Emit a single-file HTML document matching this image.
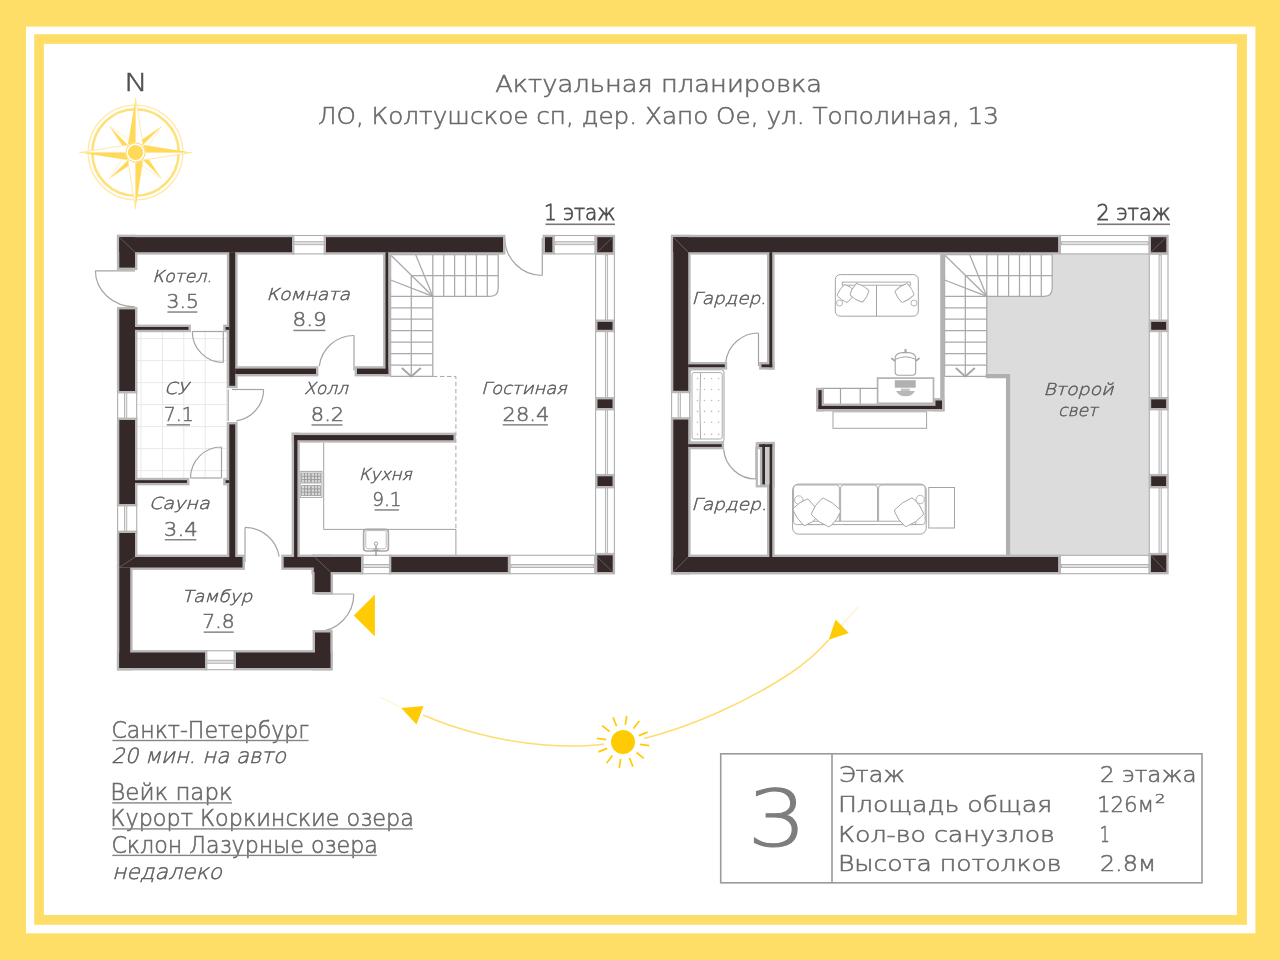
<!DOCTYPE html>
<html lang="ru"><head><meta charset="utf-8"><title>Актуальная планировка</title>
<style>
html,body{margin:0;padding:0;background:#ffde68;}
body{width:1280px;height:960px;overflow:hidden;}
svg{display:block;will-change:transform;}
text{font-family:"DejaVu Sans Light","DejaVu Sans","Liberation Sans",sans-serif;font-weight:200;fill:#696969;stroke:#696969;stroke-width:0.55px;}
text.it{font-style:italic;fill:#5a5a5a;stroke:#5a5a5a;stroke-width:0.45px;}
text.md{fill:#505050;stroke:#505050;stroke-width:0.8px;}
text.lt3{fill:#7d7d7d;stroke:#7d7d7d;stroke-width:1.2px;}
</style></head><body>
<svg width="1280" height="960" viewBox="0 0 1280 960">
<rect x="0" y="0" width="1280" height="960" fill="#ffde68"/>
<rect x="26" y="26.6" width="1229.4" height="906.7" fill="#ffffff"/>
<rect x="34.2" y="34.2" width="1212.8" height="890.6" fill="#ffde68"/>
<rect x="43.9" y="43.9" width="1193" height="871.1" fill="#ffffff"/>
<text x="495.19" y="91.9" font-size="23.5" class="lt" textLength="326.93" lengthAdjust="spacingAndGlyphs" >Актуальная планировка</text>
<text x="317.90" y="123.7" font-size="23.5" class="lt" textLength="681.11" lengthAdjust="spacingAndGlyphs" >ЛО, Колтушское сп, дер. Хапо Ое, ул. Тополиная, 13</text>
<line x1="141.0" y1="332" x2="141.0" y2="479" stroke="#e9e9e9" stroke-width="1" />
<line x1="162.4" y1="332" x2="162.4" y2="479" stroke="#e9e9e9" stroke-width="1" />
<line x1="183.8" y1="332" x2="183.8" y2="479" stroke="#e9e9e9" stroke-width="1" />
<line x1="205.2" y1="332" x2="205.2" y2="479" stroke="#e9e9e9" stroke-width="1" />
<line x1="226.6" y1="332" x2="226.6" y2="479" stroke="#e9e9e9" stroke-width="1" />
<line x1="137" y1="338.6" x2="227" y2="338.6" stroke="#e9e9e9" stroke-width="1" />
<line x1="137" y1="360.6" x2="227" y2="360.6" stroke="#e9e9e9" stroke-width="1" />
<line x1="137" y1="382.6" x2="227" y2="382.6" stroke="#e9e9e9" stroke-width="1" />
<line x1="137" y1="404.6" x2="227" y2="404.6" stroke="#e9e9e9" stroke-width="1" />
<line x1="137" y1="426.6" x2="227" y2="426.6" stroke="#e9e9e9" stroke-width="1" />
<line x1="137" y1="448.6" x2="227" y2="448.6" stroke="#e9e9e9" stroke-width="1" />
<line x1="137" y1="470.6" x2="227" y2="470.6" stroke="#e9e9e9" stroke-width="1" />
<rect x="292" y="235.5" width="34" height="18.4" fill="#fff" stroke="#aeaeae" stroke-width="1.1"/>
<rect x="293" y="241.7" width="32" height="3" fill="#e2e2e2" stroke="#aeaeae" stroke-width="0.9"/>
<rect x="554" y="235.5" width="41" height="18.4" fill="#fff" stroke="#aeaeae" stroke-width="1.1"/>
<rect x="555" y="241.7" width="39" height="3" fill="#e2e2e2" stroke="#aeaeae" stroke-width="0.9"/>
<rect x="595.5999999999999" y="254" width="18.80000000000009" height="303" fill="#fff" stroke="#aeaeae" stroke-width="1.1"/>
<rect x="605.4" y="255" width="2.2" height="301" fill="#f0f0f0" stroke="#aeaeae" stroke-width="0.9"/>
<rect x="361" y="555.3" width="30.30000000000001" height="18.4" fill="#fff" stroke="#aeaeae" stroke-width="1.1"/>
<rect x="362" y="564.5" width="28.30000000000001" height="3" fill="#e2e2e2" stroke="#aeaeae" stroke-width="0.9"/>
<rect x="510" y="555.3" width="84.79999999999995" height="18.4" fill="#fff" stroke="#aeaeae" stroke-width="1.1"/>
<rect x="511" y="564.5" width="82.79999999999995" height="3" fill="#e2e2e2" stroke="#aeaeae" stroke-width="0.9"/>
<rect x="117.6" y="391" width="19.1" height="29" fill="#fff" stroke="#aeaeae" stroke-width="1.1"/>
<rect x="124.55000000000001" y="392" width="2.2" height="27" fill="#f0f0f0" stroke="#aeaeae" stroke-width="0.9"/>
<rect x="117.6" y="504" width="19.1" height="29" fill="#fff" stroke="#aeaeae" stroke-width="1.1"/>
<rect x="124.55000000000001" y="505" width="2.2" height="27" fill="#f0f0f0" stroke="#aeaeae" stroke-width="0.9"/>
<rect x="205" y="650.8" width="31" height="18.9" fill="#fff" stroke="#aeaeae" stroke-width="1.1"/>
<rect x="206" y="660.25" width="29" height="3" fill="#e2e2e2" stroke="#aeaeae" stroke-width="0.9"/>
<path d="M95.40,270.80 A39.6,36 0 0 0 135.00,306.80" stroke="#a4a4a4" stroke-width="1.2" fill="none" />
<line x1="135.00" y1="270.80" x2="95.40" y2="270.80" stroke="#a4a4a4" stroke-width="1.2" />
<path d="M192.30,331.50 A31,31 0 0 0 223.30,362.50" stroke="#a4a4a4" stroke-width="1.2" fill="none" />
<line x1="223.30" y1="331.50" x2="223.30" y2="362.50" stroke="#a4a4a4" stroke-width="1.2" />
<line x1="192.3" y1="331.5" x2="223.3" y2="331.5" stroke="#a4a4a4" stroke-width="1.2" />
<path d="M354.00,335.50 A35,35 0 0 0 319.26,366.23" stroke="#a4a4a4" stroke-width="1.2" fill="none" />
<line x1="354.00" y1="370.50" x2="354.00" y2="335.50" stroke="#a4a4a4" stroke-width="1.2" />
<path d="M263.60,389.50 A31.6,31.6 0 0 1 236.40,420.79" stroke="#a4a4a4" stroke-width="1.2" fill="none" />
<line x1="232.00" y1="389.50" x2="263.60" y2="389.50" stroke="#a4a4a4" stroke-width="1.2" />
<line x1="228.2" y1="389.5" x2="228.2" y2="421" stroke="#a4a4a4" stroke-width="1.2" />
<path d="M221.50,447.00 A31,31 0 0 0 190.50,478.00" stroke="#a4a4a4" stroke-width="1.2" fill="none" />
<line x1="221.50" y1="478.00" x2="221.50" y2="447.00" stroke="#a4a4a4" stroke-width="1.2" />
<line x1="190.5" y1="478" x2="221.5" y2="478" stroke="#a4a4a4" stroke-width="1.2" />
<path d="M245.00,527.40 A34.6,34.6 0 0 1 279.17,556.59" stroke="#a4a4a4" stroke-width="1.2" fill="none" />
<line x1="245.00" y1="562.00" x2="245.00" y2="527.40" stroke="#a4a4a4" stroke-width="1.2" />
<path d="M353.80,594.00 A37.8,37.8 0 0 1 316.00,631.80" stroke="#a4a4a4" stroke-width="1.2" fill="none" />
<line x1="316.00" y1="594.00" x2="353.80" y2="594.00" stroke="#a4a4a4" stroke-width="1.2" />
<path d="M504.80,238.00 A37.5,37.5 0 0 0 542.30,275.50" stroke="#a4a4a4" stroke-width="1.2" fill="none" />
<line x1="542.30" y1="238.00" x2="542.30" y2="275.50" stroke="#a4a4a4" stroke-width="1.2" />
<path d="M390.6,254.5 H498.20000000000005 V288.3 Q498.20000000000005,296.3 490.20000000000005,296.3 H432.8" stroke="#a9a9a9" stroke-width="1.25" fill="none" />
<line x1="432.8" y1="254.5" x2="432.8" y2="296.3" stroke="#a9a9a9" stroke-width="1.25" />
<line x1="443.7" y1="254.5" x2="443.7" y2="296.3" stroke="#a9a9a9" stroke-width="1.25" />
<line x1="454.6" y1="254.5" x2="454.6" y2="296.3" stroke="#a9a9a9" stroke-width="1.25" />
<line x1="465.5" y1="254.5" x2="465.5" y2="296.3" stroke="#a9a9a9" stroke-width="1.25" />
<line x1="476.40000000000003" y1="254.5" x2="476.40000000000003" y2="296.3" stroke="#a9a9a9" stroke-width="1.25" />
<line x1="487.3" y1="254.5" x2="487.3" y2="296.3" stroke="#a9a9a9" stroke-width="1.25" />
<line x1="411.3" y1="275.6" x2="498.20000000000005" y2="275.6" stroke="#a9a9a9" stroke-width="1.25" />
<line x1="432.8" y1="296.3" x2="391.20000000000005" y2="255.5" stroke="#a9a9a9" stroke-width="1.25" />
<line x1="432.8" y1="296.3" x2="415.6" y2="254.5" stroke="#a9a9a9" stroke-width="1.25" />
<line x1="432.8" y1="296.3" x2="390.6" y2="280.0" stroke="#a9a9a9" stroke-width="1.25" />
<line x1="390.6" y1="296.3" x2="432.8" y2="296.3" stroke="#a9a9a9" stroke-width="1.25" />
<line x1="390.6" y1="307.75" x2="432.8" y2="307.75" stroke="#a9a9a9" stroke-width="1.25" />
<line x1="390.6" y1="319.2" x2="432.8" y2="319.2" stroke="#a9a9a9" stroke-width="1.25" />
<line x1="390.6" y1="330.65" x2="432.8" y2="330.65" stroke="#a9a9a9" stroke-width="1.25" />
<line x1="390.6" y1="342.1" x2="432.8" y2="342.1" stroke="#a9a9a9" stroke-width="1.25" />
<line x1="390.6" y1="353.55" x2="432.8" y2="353.55" stroke="#a9a9a9" stroke-width="1.25" />
<line x1="390.6" y1="365.0" x2="432.8" y2="365.0" stroke="#a9a9a9" stroke-width="1.25" />
<line x1="390.6" y1="376.45" x2="432.8" y2="376.45" stroke="#a9a9a9" stroke-width="1.25" />
<line x1="432.8" y1="296.3" x2="432.8" y2="376.45" stroke="#a9a9a9" stroke-width="1.25" />
<line x1="390.6" y1="254.5" x2="390.6" y2="376.45" stroke="#a9a9a9" stroke-width="1.25" />
<line x1="411.3" y1="275.6" x2="411.3" y2="376.45" stroke="#a9a9a9" stroke-width="1.25" />
<path d="M401.8,367.95 L411.3,376.45 L420.8,367.95" stroke="#a6a6a6" stroke-width="1.9" fill="none" />
<path d="M432.8,376.45 H455.9 V529.4" stroke="#a6a6a6" stroke-width="1" fill="none" stroke-dasharray="4.5 2.6"/>
<path d="M323.7,442.7 V529.4 H455.9 V556" stroke="#a0a0a0" stroke-width="1" fill="none" />
<rect x="300.2" y="471.4" width="21.69999999999999" height="26.0" rx="0" fill="#fff" stroke="#a8a8a8" stroke-width="1" />
<rect x="301.6" y="473" width="8.8" height="10" fill="#d9d9d9" stroke="#9c9c9c" stroke-width="0.8"/>
<line x1="301.6" y1="476.3" x2="310.40000000000003" y2="476.3" stroke="#8f8f8f" stroke-width="0.8" />
<line x1="301.6" y1="479.6" x2="310.40000000000003" y2="479.6" stroke="#8f8f8f" stroke-width="0.8" />
<line x1="304.6" y1="473" x2="304.6" y2="483" stroke="#8f8f8f" stroke-width="0.8" />
<line x1="307.6" y1="473" x2="307.6" y2="483" stroke="#8f8f8f" stroke-width="0.8" />
<rect x="311.6" y="473" width="8.8" height="10" fill="#d9d9d9" stroke="#9c9c9c" stroke-width="0.8"/>
<line x1="311.6" y1="476.3" x2="320.40000000000003" y2="476.3" stroke="#8f8f8f" stroke-width="0.8" />
<line x1="311.6" y1="479.6" x2="320.40000000000003" y2="479.6" stroke="#8f8f8f" stroke-width="0.8" />
<line x1="314.6" y1="473" x2="314.6" y2="483" stroke="#8f8f8f" stroke-width="0.8" />
<line x1="317.6" y1="473" x2="317.6" y2="483" stroke="#8f8f8f" stroke-width="0.8" />
<rect x="301.6" y="485.6" width="8.8" height="10" fill="#d9d9d9" stroke="#9c9c9c" stroke-width="0.8"/>
<line x1="301.6" y1="488.90000000000003" x2="310.40000000000003" y2="488.90000000000003" stroke="#8f8f8f" stroke-width="0.8" />
<line x1="301.6" y1="492.20000000000005" x2="310.40000000000003" y2="492.20000000000005" stroke="#8f8f8f" stroke-width="0.8" />
<line x1="304.6" y1="485.6" x2="304.6" y2="495.6" stroke="#8f8f8f" stroke-width="0.8" />
<line x1="307.6" y1="485.6" x2="307.6" y2="495.6" stroke="#8f8f8f" stroke-width="0.8" />
<rect x="311.6" y="485.6" width="8.8" height="10" fill="#d9d9d9" stroke="#9c9c9c" stroke-width="0.8"/>
<line x1="311.6" y1="488.90000000000003" x2="320.40000000000003" y2="488.90000000000003" stroke="#8f8f8f" stroke-width="0.8" />
<line x1="311.6" y1="492.20000000000005" x2="320.40000000000003" y2="492.20000000000005" stroke="#8f8f8f" stroke-width="0.8" />
<line x1="314.6" y1="485.6" x2="314.6" y2="495.6" stroke="#8f8f8f" stroke-width="0.8" />
<line x1="317.6" y1="485.6" x2="317.6" y2="495.6" stroke="#8f8f8f" stroke-width="0.8" />
<rect x="363.6" y="529.4" width="24.799999999999955" height="21.600000000000023" rx="3" fill="#fff" stroke="#a8a8a8" stroke-width="1.6" />
<rect x="365.8" y="530.6" width="20.399999999999977" height="18.199999999999932" rx="2" fill="#fff" stroke="#b5b5b5" stroke-width="0.9" />
<circle cx="376" cy="543.7" r="1.7" fill="#fff" stroke="#999" stroke-width="0.9"/>
<line x1="376" y1="545.4" x2="376" y2="556" stroke="#999" stroke-width="1.4" />
<line x1="372.5" y1="550.2" x2="379.5" y2="550.2" stroke="#999" stroke-width="1.2" />
<rect x="116.90" y="234.80" width="177.50" height="19.80" fill="#b9b7b7"/>
<rect x="323.60" y="234.80" width="181.80" height="19.80" fill="#b9b7b7"/>
<rect x="116.90" y="234.80" width="20.50" height="35.20" fill="#b9b7b7"/>
<rect x="116.90" y="307.00" width="20.50" height="86.40" fill="#b9b7b7"/>
<rect x="116.90" y="417.60" width="20.50" height="88.80" fill="#b9b7b7"/>
<rect x="116.90" y="530.60" width="20.50" height="28.80" fill="#b9b7b7"/>
<rect x="116.90" y="554.60" width="128.00" height="15.30" fill="#b9b7b7"/>
<rect x="116.90" y="565.10" width="15.70" height="105.30" fill="#b9b7b7"/>
<rect x="116.90" y="650.10" width="90.50" height="20.30" fill="#b9b7b7"/>
<rect x="233.60" y="650.10" width="99.10" height="20.30" fill="#b9b7b7"/>
<rect x="312.60" y="630.10" width="20.10" height="40.30" fill="#b9b7b7"/>
<rect x="312.20" y="554.60" width="20.80" height="39.80" fill="#b9b7b7"/>
<rect x="281.30" y="554.60" width="82.10" height="15.30" fill="#b9b7b7"/>
<rect x="311.40" y="554.60" width="52.00" height="19.80" fill="#b9b7b7"/>
<rect x="388.90" y="554.60" width="121.30" height="19.80" fill="#b9b7b7"/>
<rect x="594.90" y="552.90" width="20.20" height="21.50" fill="#b9b7b7"/>
<rect x="594.90" y="234.80" width="20.20" height="19.80" fill="#b9b7b7"/>
<rect x="542.60" y="234.80" width="12.10" height="19.80" fill="#b9b7b7"/>
<rect x="595.10" y="319.50" width="19.80" height="12.70" fill="#b9b7b7"/>
<rect x="595.10" y="397.00" width="19.80" height="13.40" fill="#b9b7b7"/>
<rect x="595.10" y="473.90" width="19.80" height="14.50" fill="#b9b7b7"/>
<rect x="226.90" y="249.80" width="10.70" height="138.40" fill="#b9b7b7"/>
<rect x="226.90" y="422.00" width="10.70" height="137.40" fill="#b9b7b7"/>
<rect x="132.60" y="324.60" width="58.30" height="7.60" fill="#b9b7b7"/>
<rect x="223.20" y="324.60" width="8.50" height="7.60" fill="#b9b7b7"/>
<rect x="132.60" y="477.80" width="56.80" height="7.50" fill="#b9b7b7"/>
<rect x="223.20" y="477.80" width="8.50" height="7.50" fill="#b9b7b7"/>
<rect x="232.80" y="366.20" width="85.60" height="10.20" fill="#b9b7b7"/>
<rect x="354.60" y="366.20" width="36.00" height="10.20" fill="#b9b7b7"/>
<rect x="383.10" y="249.80" width="7.50" height="126.60" fill="#b9b7b7"/>
<rect x="291.70" y="432.70" width="164.20" height="9.90" fill="#b9b7b7"/>
<rect x="291.70" y="432.70" width="8.10" height="126.70" fill="#b9b7b7"/>
<rect x="119.30" y="237.20" width="172.70" height="15.00" fill="#352828"/>
<rect x="326.00" y="237.20" width="177.00" height="15.00" fill="#352828"/>
<rect x="119.30" y="237.20" width="15.70" height="30.40" fill="#352828"/>
<rect x="119.30" y="309.40" width="15.70" height="81.60" fill="#352828"/>
<rect x="119.30" y="420.00" width="15.70" height="84.00" fill="#352828"/>
<rect x="119.30" y="533.00" width="15.70" height="24.00" fill="#352828"/>
<rect x="119.30" y="557.00" width="123.20" height="10.50" fill="#352828"/>
<rect x="119.30" y="567.50" width="10.90" height="100.50" fill="#352828"/>
<rect x="119.30" y="652.50" width="85.70" height="15.50" fill="#352828"/>
<rect x="236.00" y="652.50" width="94.30" height="15.50" fill="#352828"/>
<rect x="315.00" y="632.50" width="15.30" height="35.50" fill="#352828"/>
<rect x="314.60" y="557.00" width="16.00" height="35.00" fill="#352828"/>
<rect x="283.70" y="557.00" width="77.30" height="10.50" fill="#352828"/>
<rect x="313.80" y="557.00" width="47.20" height="15.00" fill="#352828"/>
<rect x="391.30" y="557.00" width="116.50" height="15.00" fill="#352828"/>
<rect x="597.30" y="555.30" width="15.40" height="16.70" fill="#352828"/>
<rect x="597.30" y="237.20" width="15.40" height="15.00" fill="#352828"/>
<rect x="545.00" y="237.20" width="7.30" height="15.00" fill="#352828"/>
<rect x="597.50" y="321.90" width="15.00" height="7.90" fill="#352828"/>
<rect x="597.50" y="399.40" width="15.00" height="8.60" fill="#352828"/>
<rect x="597.50" y="476.30" width="15.00" height="9.70" fill="#352828"/>
<rect x="229.30" y="252.20" width="5.90" height="133.60" fill="#352828"/>
<rect x="229.30" y="424.40" width="5.90" height="132.60" fill="#352828"/>
<rect x="135.00" y="327.00" width="53.50" height="2.80" fill="#352828"/>
<rect x="225.60" y="327.00" width="3.70" height="2.80" fill="#352828"/>
<rect x="135.00" y="480.20" width="52.00" height="2.70" fill="#352828"/>
<rect x="225.60" y="480.20" width="3.70" height="2.70" fill="#352828"/>
<rect x="235.20" y="368.60" width="80.80" height="5.40" fill="#352828"/>
<rect x="357.00" y="368.60" width="31.20" height="5.40" fill="#352828"/>
<rect x="385.50" y="252.20" width="2.70" height="121.80" fill="#352828"/>
<rect x="294.10" y="435.10" width="159.40" height="5.10" fill="#352828"/>
<rect x="294.10" y="435.10" width="3.30" height="121.90" fill="#352828"/>
<line x1="119.3" y1="237.2" x2="135" y2="252.2" stroke="#7a6f6f" stroke-width="0.7" />
<line x1="597.3" y1="252.2" x2="612.7" y2="237.2" stroke="#7a6f6f" stroke-width="0.7" />
<line x1="597.3" y1="557" x2="612.7" y2="572" stroke="#7a6f6f" stroke-width="0.7" />
<line x1="119.3" y1="567.5" x2="135" y2="557" stroke="#7a6f6f" stroke-width="0.7" />
<line x1="314.6" y1="557" x2="330.6" y2="572" stroke="#7a6f6f" stroke-width="0.7" />
<polygon points="353.8,615.6 374.9,594.6 374.9,636.4" fill="#ffcb05"/>
<text x="152.21" y="282.2" font-size="16.5" class="it" textLength="59.96" lengthAdjust="spacingAndGlyphs" >Котел.</text>
<text x="166.57" y="307.9" font-size="20" class="lt" textLength="32.35" lengthAdjust="spacingAndGlyphs" >3.5</text>
<rect x="167.4" y="311.29999999999995" width="30" height="1.5" fill="#858585"/>
<text x="266.25" y="300.4" font-size="16.5" class="it" textLength="83.82" lengthAdjust="spacingAndGlyphs" >Комната</text>
<text x="292.47" y="326.3" font-size="20" class="lt" textLength="34.32" lengthAdjust="spacingAndGlyphs" >8.9</text>
<rect x="293.4" y="329.7" width="32" height="1.5" fill="#858585"/>
<text x="164.03" y="394" font-size="16.5" class="it" textLength="24.30" lengthAdjust="spacingAndGlyphs" >СУ</text>
<text x="163.69" y="420.7" font-size="20" class="lt" textLength="30.04" lengthAdjust="spacingAndGlyphs" >7.1</text>
<rect x="166.75" y="424.09999999999997" width="23.3" height="1.5" fill="#858585"/>
<text x="303.95" y="394" font-size="16.5" class="it" textLength="44.13" lengthAdjust="spacingAndGlyphs" >Холл</text>
<text x="310.89" y="420.8" font-size="20" class="lt" textLength="33.33" lengthAdjust="spacingAndGlyphs" >8.2</text>
<rect x="311.5" y="424.2" width="31" height="1.5" fill="#858585"/>
<text x="480.93" y="394" font-size="16.5" class="it" textLength="85.92" lengthAdjust="spacingAndGlyphs" >Гостиная</text>
<text x="502.56" y="420.7" font-size="20" class="lt" textLength="46.73" lengthAdjust="spacingAndGlyphs" >28.4</text>
<rect x="502.69999999999993" y="424.09999999999997" width="45.2" height="1.5" fill="#858585"/>
<text x="358.79" y="479.6" font-size="16.5" class="it" textLength="53.15" lengthAdjust="spacingAndGlyphs" >Кухня</text>
<text x="372.24" y="505.8" font-size="20" class="lt" textLength="29.39" lengthAdjust="spacingAndGlyphs" >9.1</text>
<rect x="374.55" y="509.2" width="24.5" height="1.5" fill="#858585"/>
<text x="148.83" y="509" font-size="16.5" class="it" textLength="60.85" lengthAdjust="spacingAndGlyphs" >Сауна</text>
<text x="163.88" y="535.6" font-size="20" class="lt" textLength="33.78" lengthAdjust="spacingAndGlyphs" >3.4</text>
<rect x="164.85" y="539.0" width="31.5" height="1.5" fill="#858585"/>
<text x="181.71" y="602" font-size="16.5" class="it" textLength="70.62" lengthAdjust="spacingAndGlyphs" >Тамбур</text>
<text x="202.39" y="628" font-size="20" class="lt" textLength="32.35" lengthAdjust="spacingAndGlyphs" >7.8</text>
<rect x="203.7" y="631.4" width="30" height="1.5" fill="#858585"/>
<text x="543.91" y="219.8" font-size="21.8" class="md" textLength="71.67" lengthAdjust="spacingAndGlyphs" >1 этаж</text>
<rect x="545.5" y="223.5" width="69.5" height="1.6" fill="#777"/>
<text x="1096.45" y="219.8" font-size="21.8" class="md" textLength="74.10" lengthAdjust="spacingAndGlyphs" >2 этаж</text>
<rect x="1097" y="223.5" width="73" height="1.6" fill="#777"/>
<path d="M1052.5,254 H1150 V557 H1008 V376 H986.3 V296.3 H1044.5 Q1052.5,296.3 1052.5,288.3 Z" fill="#dcdcdc"/>
<rect x="1060.4" y="235.5" width="88.79999999999995" height="18.4" fill="#fff" stroke="#aeaeae" stroke-width="1.1"/>
<rect x="1061.4" y="241.7" width="86.79999999999995" height="3" fill="#e2e2e2" stroke="#aeaeae" stroke-width="0.9"/>
<rect x="1060.4" y="555.3" width="88.79999999999995" height="18.4" fill="#fff" stroke="#aeaeae" stroke-width="1.1"/>
<rect x="1061.4" y="564.5" width="86.79999999999995" height="3" fill="#e2e2e2" stroke="#aeaeae" stroke-width="0.9"/>
<rect x="1149.3" y="254" width="18.699999999999953" height="303" fill="#fff" stroke="#aeaeae" stroke-width="1.1"/>
<rect x="1159.0500000000002" y="255" width="2.2" height="301" fill="#f0f0f0" stroke="#aeaeae" stroke-width="0.9"/>
<rect x="671.5999999999999" y="390.8" width="18.30000000000009" height="28.80000000000001" fill="#fff" stroke="#aeaeae" stroke-width="1.1"/>
<rect x="678.15" y="391.8" width="2.2" height="26.80000000000001" fill="#f0f0f0" stroke="#aeaeae" stroke-width="0.9"/>
<path d="M758.50,333.00 A33,33 0 0 0 725.75,361.98" stroke="#a4a4a4" stroke-width="1.2" fill="none" />
<line x1="758.50" y1="366.00" x2="758.50" y2="333.00" stroke="#a4a4a4" stroke-width="1.2" />
<path d="M723.62,449.33 A32.5,32.5 0 0 0 756.00,479.00" stroke="#a4a4a4" stroke-width="1.2" fill="none" />
<line x1="756.00" y1="446.50" x2="756.00" y2="479.00" stroke="#a4a4a4" stroke-width="1.2" />
<path d="M944.6,254.5 H1052.2 V288.3 Q1052.2,296.3 1044.2,296.3 H986.8000000000001" stroke="#a9a9a9" stroke-width="1.25" fill="none" />
<line x1="986.8000000000001" y1="254.5" x2="986.8000000000001" y2="296.3" stroke="#a9a9a9" stroke-width="1.25" />
<line x1="997.7" y1="254.5" x2="997.7" y2="296.3" stroke="#a9a9a9" stroke-width="1.25" />
<line x1="1008.6" y1="254.5" x2="1008.6" y2="296.3" stroke="#a9a9a9" stroke-width="1.25" />
<line x1="1019.5000000000001" y1="254.5" x2="1019.5000000000001" y2="296.3" stroke="#a9a9a9" stroke-width="1.25" />
<line x1="1030.4" y1="254.5" x2="1030.4" y2="296.3" stroke="#a9a9a9" stroke-width="1.25" />
<line x1="1041.3000000000002" y1="254.5" x2="1041.3000000000002" y2="296.3" stroke="#a9a9a9" stroke-width="1.25" />
<line x1="965.3000000000001" y1="275.6" x2="1052.2" y2="275.6" stroke="#a9a9a9" stroke-width="1.25" />
<line x1="986.8000000000001" y1="296.3" x2="945.2" y2="255.5" stroke="#a9a9a9" stroke-width="1.25" />
<line x1="986.8000000000001" y1="296.3" x2="969.6" y2="254.5" stroke="#a9a9a9" stroke-width="1.25" />
<line x1="986.8000000000001" y1="296.3" x2="944.6" y2="280.0" stroke="#a9a9a9" stroke-width="1.25" />
<line x1="944.6" y1="296.3" x2="986.8000000000001" y2="296.3" stroke="#a9a9a9" stroke-width="1.25" />
<line x1="944.6" y1="307.75" x2="986.8000000000001" y2="307.75" stroke="#a9a9a9" stroke-width="1.25" />
<line x1="944.6" y1="319.2" x2="986.8000000000001" y2="319.2" stroke="#a9a9a9" stroke-width="1.25" />
<line x1="944.6" y1="330.65" x2="986.8000000000001" y2="330.65" stroke="#a9a9a9" stroke-width="1.25" />
<line x1="944.6" y1="342.1" x2="986.8000000000001" y2="342.1" stroke="#a9a9a9" stroke-width="1.25" />
<line x1="944.6" y1="353.55" x2="986.8000000000001" y2="353.55" stroke="#a9a9a9" stroke-width="1.25" />
<line x1="944.6" y1="365.0" x2="986.8000000000001" y2="365.0" stroke="#a9a9a9" stroke-width="1.25" />
<line x1="944.6" y1="376.45" x2="986.8000000000001" y2="376.45" stroke="#a9a9a9" stroke-width="1.25" />
<line x1="986.8000000000001" y1="296.3" x2="986.8000000000001" y2="376.45" stroke="#a9a9a9" stroke-width="1.25" />
<line x1="944.6" y1="254.5" x2="944.6" y2="376.45" stroke="#a9a9a9" stroke-width="1.25" />
<line x1="965.3000000000001" y1="275.6" x2="965.3000000000001" y2="376.45" stroke="#a9a9a9" stroke-width="1.25" />
<path d="M955.8000000000001,367.95 L965.3000000000001,376.45 L974.8000000000001,367.95" stroke="#a6a6a6" stroke-width="1.9" fill="none" />
<path d="M985.6,376.15 H1008.05 V557" fill="none" stroke="#b0aeae" stroke-width="4.2"/>
<rect x="940.2" y="254" width="4.4" height="157" fill="#b5b3b3"/>
<rect x="835.3" y="274.6" width="83.0" height="41.599999999999966" rx="5" fill="#fff" stroke="#a3a3a3" stroke-width="1" />
<rect x="842.2" y="282.1" width="68.09999999999991" height="3.099999999999966" rx="0" fill="#fff" stroke="#a3a3a3" stroke-width="0.9" />
<line x1="876.5" y1="285.2" x2="876.5" y2="316.2" stroke="#a3a3a3" stroke-width="1" />
<circle cx="839.5" cy="303" r="3" fill="#fff" stroke="#a3a3a3" stroke-width="0.8"/>
<circle cx="914" cy="303" r="3" fill="#fff" stroke="#a3a3a3" stroke-width="0.8"/>
<path d="M-6.5,-5.6000000000000005 Q-6.175,-7.3500000000000005 -4.55,-7.0 Q0,-8.26 4.55,-7.0 Q6.175,-7.3500000000000005 6.5,-5.6000000000000005 Q7.67,0 6.5,5.6000000000000005 Q6.175,7.3500000000000005 4.55,7.0 Q0,8.26 -4.55,7.0 Q-6.175,7.3500000000000005 -6.5,5.6000000000000005 Q-7.67,0 -6.5,-5.6000000000000005 Z" transform="translate(846,293.5) rotate(35)" fill="#fff" stroke="#a3a3a3" stroke-width="0.9"/>
<path d="M-7.5,-5.6000000000000005 Q-7.125,-7.3500000000000005 -5.25,-7.0 Q0,-8.26 5.25,-7.0 Q7.125,-7.3500000000000005 7.5,-5.6000000000000005 Q8.85,0 7.5,5.6000000000000005 Q7.125,7.3500000000000005 5.25,7.0 Q0,8.26 -5.25,7.0 Q-7.125,7.3500000000000005 -7.5,5.6000000000000005 Q-8.85,0 -7.5,-5.6000000000000005 Z" transform="translate(859.5,292.8) rotate(30)" fill="#fff" stroke="#a3a3a3" stroke-width="0.9"/>
<path d="M-7.5,-5.6000000000000005 Q-7.125,-7.3500000000000005 -5.25,-7.0 Q0,-8.26 5.25,-7.0 Q7.125,-7.3500000000000005 7.5,-5.6000000000000005 Q8.85,0 7.5,5.6000000000000005 Q7.125,7.3500000000000005 5.25,7.0 Q0,8.26 -5.25,7.0 Q-7.125,7.3500000000000005 -7.5,5.6000000000000005 Q-8.85,0 -7.5,-5.6000000000000005 Z" transform="translate(904.5,293) rotate(-32)" fill="#fff" stroke="#a3a3a3" stroke-width="0.9"/>
<rect x="792.6" y="484.1" width="133.60000000000002" height="50.0" rx="6" fill="#fff" stroke="#a3a3a3" stroke-width="1" />
<rect x="793.6" y="485" width="45.799999999999955" height="39.60000000000002" rx="3" fill="#fff" stroke="#a3a3a3" stroke-width="0.9" />
<rect x="840.6" y="485" width="36.89999999999998" height="39.60000000000002" rx="3" fill="#fff" stroke="#a3a3a3" stroke-width="0.9" />
<rect x="878.6" y="485" width="46.60000000000002" height="39.60000000000002" rx="3" fill="#fff" stroke="#a3a3a3" stroke-width="0.9" />
<rect x="802.3" y="521.2" width="113.5" height="3.3999999999999773" rx="0" fill="#fff" stroke="#a3a3a3" stroke-width="0.9" />
<circle cx="798.8" cy="500" r="4.2" fill="#fff" stroke="#a3a3a3" stroke-width="0.8"/>
<circle cx="920.2" cy="499.5" r="4.2" fill="#fff" stroke="#a3a3a3" stroke-width="0.8"/>
<path d="M-9.5,-8.4 Q-9.025,-11.025 -6.6499999999999995,-10.5 Q0,-12.389999999999999 6.6499999999999995,-10.5 Q9.025,-11.025 9.5,-8.4 Q11.209999999999999,0 9.5,8.4 Q9.025,11.025 6.6499999999999995,10.5 Q0,12.389999999999999 -6.6499999999999995,10.5 Q-9.025,11.025 -9.5,8.4 Q-11.209999999999999,0 -9.5,-8.4 Z" transform="translate(806,512.3) rotate(-35)" fill="#fff" stroke="#a3a3a3" stroke-width="0.9"/>
<path d="M-11.5,-8.4 Q-10.924999999999999,-11.025 -8.049999999999999,-10.5 Q0,-12.389999999999999 8.049999999999999,-10.5 Q10.924999999999999,-11.025 11.5,-8.4 Q13.569999999999999,0 11.5,8.4 Q10.924999999999999,11.025 8.049999999999999,10.5 Q0,12.389999999999999 -8.049999999999999,10.5 Q-10.924999999999999,11.025 -11.5,8.4 Q-13.569999999999999,0 -11.5,-8.4 Z" transform="translate(826,512.5) rotate(35)" fill="#fff" stroke="#a3a3a3" stroke-width="0.9"/>
<path d="M-11.5,-8.4 Q-10.924999999999999,-11.025 -8.049999999999999,-10.5 Q0,-12.389999999999999 8.049999999999999,-10.5 Q10.924999999999999,-11.025 11.5,-8.4 Q13.569999999999999,0 11.5,8.4 Q10.924999999999999,11.025 8.049999999999999,10.5 Q0,12.389999999999999 -8.049999999999999,10.5 Q-10.924999999999999,11.025 -11.5,8.4 Q-13.569999999999999,0 -11.5,-8.4 Z" transform="translate(909,512.3) rotate(-35)" fill="#fff" stroke="#a3a3a3" stroke-width="0.9"/>
<rect x="928.8" y="487.5" width="25.700000000000045" height="40.5" rx="0" fill="#fff" stroke="#a3a3a3" stroke-width="1" />
<rect x="833" y="411.8" width="93.60000000000002" height="16.5" rx="0" fill="#fff" stroke="#a3a3a3" stroke-width="1" />
<rect x="877.6" y="378.1" width="55.89999999999998" height="25.19999999999999" rx="0" fill="#fff" stroke="#b3b3b3" stroke-width="1.7" />
<rect x="894.8" y="380.2" width="20.9" height="7.5" fill="#b0b0b0"/>
<rect x="900.9" y="388.6" width="8.9" height="2.6" fill="#c4c4c4"/>
<path d="M896.2,390.9 H914.9 Q912.5,396.2 905.6,396.2 Q898.5,396.2 896.2,390.9 Z" fill="#b8b8b8"/>
<path d="M895.2,357.5 V372 Q895.2,375.2 898.5,375.2 H912.4 Q915.7,375.2 915.7,372 V357.5" stroke="#a3a3a3" stroke-width="1.1" fill="#fff" />
<path d="M895.2,357.8 Q895.4,352.6 905.5,352.4 Q915.5,352.6 915.7,357.8" stroke="#a3a3a3" stroke-width="1.1" fill="none" />
<path d="M895.4,359.4 Q905.5,354.2 915.6,359.4" stroke="#a3a3a3" stroke-width="1.0" fill="none" />
<line x1="905.5" y1="349" x2="905.5" y2="352.4" stroke="#a3a3a3" stroke-width="2" />
<path d="M891.2,358.2 L895,361 M919.6,358.2 L915.9,361" stroke="#a3a3a3" stroke-width="1.6" fill="none" />
<line x1="821.6" y1="388.4" x2="877.5" y2="388.4" stroke="#a3a3a3" stroke-width="1.2" />
<line x1="840.5" y1="388.4" x2="840.5" y2="404.7" stroke="#a3a3a3" stroke-width="1.2" />
<line x1="860.2" y1="388.4" x2="860.2" y2="404.7" stroke="#a3a3a3" stroke-width="1.2" />
<rect x="689.9" y="369.8" width="34.10000000000002" height="72.19999999999999" rx="2.5" fill="#fff" stroke="#a3a3a3" stroke-width="1" />
<rect x="692" y="372.6" width="30.200000000000045" height="66.39999999999998" rx="2" fill="#fff" stroke="#a3a3a3" stroke-width="0.9" />
<path d="M700.6,372.6 Q699.2,405 700.6,439" stroke="#a3a3a3" stroke-width="0.9" fill="none" />
<circle cx="697.5" cy="378.6" r="0.8" fill="#bdbdbd"/>
<circle cx="704.5" cy="378.6" r="0.8" fill="#bdbdbd"/>
<circle cx="711.6" cy="378.6" r="0.8" fill="#bdbdbd"/>
<circle cx="718.6" cy="378.6" r="0.8" fill="#bdbdbd"/>
<circle cx="697.5" cy="389.5" r="0.8" fill="#bdbdbd"/>
<circle cx="704.5" cy="389.5" r="0.8" fill="#bdbdbd"/>
<circle cx="711.6" cy="389.5" r="0.8" fill="#bdbdbd"/>
<circle cx="718.6" cy="389.5" r="0.8" fill="#bdbdbd"/>
<circle cx="697.5" cy="400.5" r="0.8" fill="#bdbdbd"/>
<circle cx="704.5" cy="400.5" r="0.8" fill="#bdbdbd"/>
<circle cx="711.6" cy="400.5" r="0.8" fill="#bdbdbd"/>
<circle cx="718.6" cy="400.5" r="0.8" fill="#bdbdbd"/>
<circle cx="697.5" cy="411.4" r="0.8" fill="#bdbdbd"/>
<circle cx="704.5" cy="411.4" r="0.8" fill="#bdbdbd"/>
<circle cx="711.6" cy="411.4" r="0.8" fill="#bdbdbd"/>
<circle cx="718.6" cy="411.4" r="0.8" fill="#bdbdbd"/>
<circle cx="697.5" cy="422.3" r="0.8" fill="#bdbdbd"/>
<circle cx="704.5" cy="422.3" r="0.8" fill="#bdbdbd"/>
<circle cx="711.6" cy="422.3" r="0.8" fill="#bdbdbd"/>
<circle cx="718.6" cy="422.3" r="0.8" fill="#bdbdbd"/>
<circle cx="697.5" cy="434.4" r="0.8" fill="#bdbdbd"/>
<circle cx="704.5" cy="434.4" r="0.8" fill="#bdbdbd"/>
<circle cx="711.6" cy="434.4" r="0.8" fill="#bdbdbd"/>
<circle cx="718.6" cy="434.4" r="0.8" fill="#bdbdbd"/>
<rect x="756.8" y="443.4" width="16.8" height="42.9" fill="#fff" stroke="#b9b7b7" stroke-width="2.2"/>
<rect x="670.90" y="234.80" width="389.60" height="19.80" fill="#b9b7b7"/>
<rect x="670.90" y="234.80" width="19.70" height="158.40" fill="#b9b7b7"/>
<rect x="670.90" y="417.20" width="19.70" height="157.20" fill="#b9b7b7"/>
<rect x="670.90" y="554.60" width="389.60" height="19.80" fill="#b9b7b7"/>
<rect x="1148.60" y="234.80" width="20.10" height="19.80" fill="#b9b7b7"/>
<rect x="1148.60" y="552.90" width="20.10" height="21.50" fill="#b9b7b7"/>
<rect x="1148.80" y="319.50" width="19.70" height="12.70" fill="#b9b7b7"/>
<rect x="1148.80" y="397.00" width="19.70" height="13.40" fill="#b9b7b7"/>
<rect x="1148.80" y="473.90" width="19.70" height="14.50" fill="#b9b7b7"/>
<rect x="767.00" y="249.80" width="7.60" height="119.80" fill="#b9b7b7"/>
<rect x="759.10" y="362.00" width="15.50" height="7.60" fill="#b9b7b7"/>
<rect x="685.80" y="362.00" width="41.40" height="7.60" fill="#b9b7b7"/>
<rect x="685.80" y="441.80" width="38.30" height="7.50" fill="#b9b7b7"/>
<rect x="767.00" y="441.90" width="7.60" height="117.50" fill="#b9b7b7"/>
<rect x="756.80" y="441.90" width="17.80" height="7.40" fill="#b9b7b7"/>
<rect x="759.90" y="441.90" width="7.50" height="44.90" fill="#b9b7b7"/>
<rect x="816.00" y="387.80" width="8.00" height="23.60" fill="#b9b7b7"/>
<rect x="816.00" y="403.50" width="128.40" height="7.90" fill="#b9b7b7"/>
<rect x="933.10" y="398.10" width="11.30" height="13.30" fill="#b9b7b7"/>
<rect x="673.30" y="237.20" width="384.80" height="15.00" fill="#352828"/>
<rect x="673.30" y="237.20" width="14.90" height="153.60" fill="#352828"/>
<rect x="673.30" y="419.60" width="14.90" height="152.40" fill="#352828"/>
<rect x="673.30" y="557.00" width="384.80" height="15.00" fill="#352828"/>
<rect x="1151.00" y="237.20" width="15.30" height="15.00" fill="#352828"/>
<rect x="1151.00" y="555.30" width="15.30" height="16.70" fill="#352828"/>
<rect x="1151.20" y="321.90" width="14.90" height="7.90" fill="#352828"/>
<rect x="1151.20" y="399.40" width="14.90" height="8.60" fill="#352828"/>
<rect x="1151.20" y="476.30" width="14.90" height="9.70" fill="#352828"/>
<rect x="769.40" y="252.20" width="2.80" height="115.00" fill="#352828"/>
<rect x="761.50" y="364.40" width="10.70" height="2.80" fill="#352828"/>
<rect x="688.20" y="364.40" width="36.60" height="2.80" fill="#352828"/>
<rect x="688.20" y="444.20" width="33.50" height="2.70" fill="#352828"/>
<rect x="769.40" y="444.30" width="2.80" height="112.70" fill="#352828"/>
<rect x="759.20" y="444.30" width="13.00" height="2.60" fill="#352828"/>
<rect x="762.30" y="444.30" width="2.70" height="40.10" fill="#352828"/>
<rect x="818.40" y="390.20" width="3.20" height="18.80" fill="#352828"/>
<rect x="818.40" y="405.90" width="123.60" height="3.10" fill="#352828"/>
<rect x="935.50" y="400.50" width="6.50" height="8.50" fill="#352828"/>
<rect x="765" y="447" width="4.4" height="37.4" fill="#c9c9c9"/>
<line x1="673.3" y1="237.2" x2="688.2" y2="252.2" stroke="#7a6f6f" stroke-width="0.7" />
<line x1="673.3" y1="572" x2="688.2" y2="557" stroke="#7a6f6f" stroke-width="0.7" />
<line x1="1151" y1="252.2" x2="1166.3" y2="237.2" stroke="#7a6f6f" stroke-width="0.7" />
<line x1="1151" y1="555.3" x2="1166.3" y2="572" stroke="#7a6f6f" stroke-width="0.7" />
<text x="691.50" y="304" font-size="16.5" class="it" textLength="74.60" lengthAdjust="spacingAndGlyphs" >Гардер.</text>
<text x="691.25" y="510" font-size="16.5" class="it" textLength="75.67" lengthAdjust="spacingAndGlyphs" >Гардер.</text>
<text x="1043.33" y="395" font-size="16.5" class="it" textLength="70.06" lengthAdjust="spacingAndGlyphs" >Второй</text>
<text x="1058.00" y="416" font-size="16.5" class="it" textLength="39.51" lengthAdjust="spacingAndGlyphs" >свет</text>
<g transform="translate(135.5,152.5)">
<circle r="47.3" fill="none" stroke="#ffe9a3" stroke-width="1.3"/>
<circle r="43.2" fill="none" stroke="#ffe07a" stroke-width="2.6"/>
<g transform="rotate(45)"><polygon points="0,-37 -5.5,-9 0,-9" fill="#ffd957"/><polygon points="0,-37 5.5,-9 0,-9" fill="#fff" stroke="#ffe9a3" stroke-width="0.7"/></g>
<g transform="rotate(135)"><polygon points="0,-37 -5.5,-9 0,-9" fill="#ffd957"/><polygon points="0,-37 5.5,-9 0,-9" fill="#fff" stroke="#ffe9a3" stroke-width="0.7"/></g>
<g transform="rotate(225)"><polygon points="0,-37 -5.5,-9 0,-9" fill="#ffd957"/><polygon points="0,-37 5.5,-9 0,-9" fill="#fff" stroke="#ffe9a3" stroke-width="0.7"/></g>
<g transform="rotate(315)"><polygon points="0,-37 -5.5,-9 0,-9" fill="#ffd957"/><polygon points="0,-37 5.5,-9 0,-9" fill="#fff" stroke="#ffe9a3" stroke-width="0.7"/></g>
<g transform="rotate(0)"><polygon points="0,-54.5 -7.5,-8 0,-8" fill="#ffd957"/><polygon points="0,-54.5 7.5,-8 0,-8" fill="#fff" stroke="#ffe393" stroke-width="0.8"/></g>
<g transform="rotate(90)"><polygon points="0,-56 -7.5,-8 0,-8" fill="#ffd957"/><polygon points="0,-56 7.5,-8 0,-8" fill="#fff" stroke="#ffe393" stroke-width="0.8"/></g>
<g transform="rotate(180)"><polygon points="0,-56.5 -7.5,-8 0,-8" fill="#ffd957"/><polygon points="0,-56.5 7.5,-8 0,-8" fill="#fff" stroke="#ffe393" stroke-width="0.8"/></g>
<g transform="rotate(270)"><polygon points="0,-56 -7.5,-8 0,-8" fill="#ffd957"/><polygon points="0,-56 7.5,-8 0,-8" fill="#fff" stroke="#ffe393" stroke-width="0.8"/></g>
<circle r="10.3" fill="#fff"/>
<circle r="9.6" fill="none" stroke="#ffd957" stroke-width="1"/>
<circle r="7.6" fill="#ffd957"/>
</g>
<text x="124.13" y="91.2" font-size="25" class="md" textLength="23.82" lengthAdjust="spacingAndGlyphs" fill="#484848" style="stroke-width:0.45px">N</text>
<path d="M423.2,715 C455,729 500,741.5 545,745 C570,746.8 590,746 604,744" stroke="#ffdc70" stroke-width="1.6" fill="none" />
<path d="M644,738.5 C690,727 745,703 790,673.5 C806,663 819,651 828.8,639.8" stroke="#ffdc70" stroke-width="1.6" fill="none" />
<path d="M828.8,639.8 L858,607" stroke="#fff3cf" stroke-width="1.4" fill="none" />
<path d="M401,707.5 L380,697" stroke="#fff6dc" stroke-width="1.4" fill="none" />
<polygon points="401.2,708.1 423.6,706 416.5,724.5" fill="#ffcb05"/>
<polygon points="835.6,619.4 848.8,633.1 828.7,639.8" fill="#ffcb05"/>
<circle cx="623" cy="742" r="12" fill="#ffcb05"/>
<line x1="639.8" y1="744.4" x2="649.2" y2="745.7" stroke="#ffcb05" stroke-width="1.7" />
<line x1="636.4" y1="752.5" x2="643.9" y2="758.3" stroke="#ffcb05" stroke-width="1.7" />
<line x1="629.4" y1="757.8" x2="632.9" y2="766.6" stroke="#ffcb05" stroke-width="1.7" />
<line x1="620.6" y1="758.8" x2="619.3" y2="768.2" stroke="#ffcb05" stroke-width="1.7" />
<line x1="612.5" y1="755.4" x2="606.7" y2="762.9" stroke="#ffcb05" stroke-width="1.7" />
<line x1="607.2" y1="748.4" x2="598.4" y2="751.9" stroke="#ffcb05" stroke-width="1.7" />
<line x1="606.2" y1="739.6" x2="596.8" y2="738.3" stroke="#ffcb05" stroke-width="1.7" />
<line x1="609.6" y1="731.5" x2="602.1" y2="725.7" stroke="#ffcb05" stroke-width="1.7" />
<line x1="616.6" y1="726.2" x2="613.1" y2="717.4" stroke="#ffcb05" stroke-width="1.7" />
<line x1="625.4" y1="725.2" x2="626.7" y2="715.8" stroke="#ffcb05" stroke-width="1.7" />
<line x1="633.5" y1="728.6" x2="639.3" y2="721.1" stroke="#ffcb05" stroke-width="1.7" />
<line x1="638.8" y1="735.6" x2="647.6" y2="732.1" stroke="#ffcb05" stroke-width="1.7" />
<text x="111.38" y="737.6" font-size="22.2" class="lt" textLength="197.63" lengthAdjust="spacingAndGlyphs" >Санкт-Петербург</text>
<rect x="112.3" y="739.8000000000001" width="196.2" height="1.4" fill="#858585"/>
<text x="111.39" y="762.8" font-size="21" class="it" textLength="174.50" lengthAdjust="spacingAndGlyphs" >20 мин. на авто</text>
<text x="110.34" y="800" font-size="22.2" class="lt" textLength="122.21" lengthAdjust="spacingAndGlyphs" >Вейк парк</text>
<rect x="112.3" y="802.2" width="119.7" height="1.4" fill="#858585"/>
<text x="110.37" y="826" font-size="22.2" class="lt" textLength="303.56" lengthAdjust="spacingAndGlyphs" >Курорт Коркинские озера</text>
<rect x="112.3" y="828.2" width="300.5" height="1.4" fill="#858585"/>
<text x="111.39" y="852.5" font-size="22.2" class="lt" textLength="266.54" lengthAdjust="spacingAndGlyphs" >Склон Лазурные озера</text>
<rect x="112.3" y="854.7" width="264.5" height="1.4" fill="#858585"/>
<text x="111.96" y="878.5" font-size="21" class="it" textLength="110.04" lengthAdjust="spacingAndGlyphs" >недалеко</text>
<rect x="720.7" y="753.8" width="481.3" height="129" fill="#fff" stroke="#9a9a9a" stroke-width="1.6"/>
<line x1="832" y1="753.8" x2="832" y2="882.8" stroke="#9a9a9a" stroke-width="1.6" />
<text x="747.54" y="845.6" font-size="78.5" class="lt3" textLength="59.27" lengthAdjust="spacingAndGlyphs" >3</text>
<text x="838.94" y="781.7" font-size="22" class="lt" textLength="65.94" lengthAdjust="spacingAndGlyphs" >Этаж</text>
<text x="1099.97" y="781.7" font-size="22" class="lt" textLength="96.62" lengthAdjust="spacingAndGlyphs" >2 этажа</text>
<text x="837.93" y="811.6" font-size="22" class="lt" textLength="214.12" lengthAdjust="spacingAndGlyphs" >Площадь общая</text>
<text x="1096.90" y="811.6" font-size="22" class="lt" textLength="56.88" lengthAdjust="spacingAndGlyphs" >126м</text>
<text x="837.93" y="841.5" font-size="22" class="lt" textLength="217.00" lengthAdjust="spacingAndGlyphs" >Кол-во санузлов</text>
<text x="1099.63" y="841.5" font-size="22" class="lt" textLength="10.13" lengthAdjust="spacingAndGlyphs" >1</text>
<text x="837.93" y="871.4000000000001" font-size="22" class="lt" textLength="223.61" lengthAdjust="spacingAndGlyphs" >Высота потолков</text>
<text x="1099.93" y="871.4000000000001" font-size="22" class="lt" textLength="56.04" lengthAdjust="spacingAndGlyphs" >2.8м</text>
<text x="1154.97" y="803" font-size="12.5" class="lt" textLength="10.45" lengthAdjust="spacingAndGlyphs" >2</text>
</svg>
</body></html>
